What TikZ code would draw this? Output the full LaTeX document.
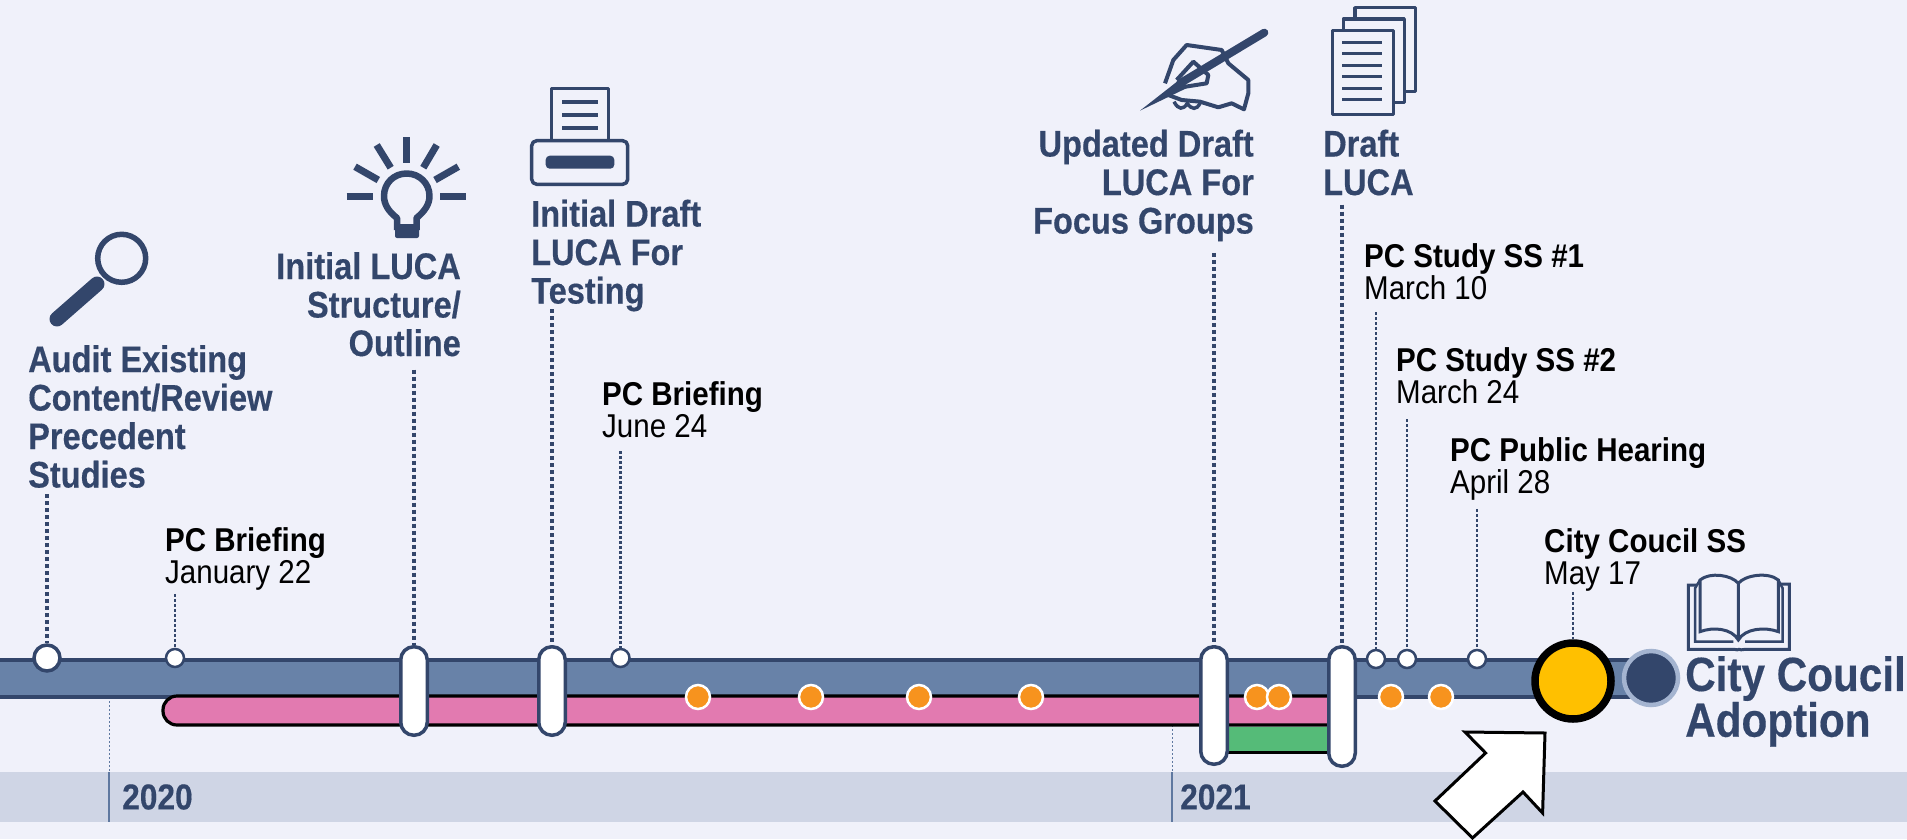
\documentclass[tikz,border=0pt]{standalone}
\usepackage{fontspec}
\setmainfont[FakeStretch=0.895]{Liberation Sans}
\newfontfamily\headfont[FakeStretch=0.88,BoldFeatures={FakeBold=0.35}]{Liberation Sans}
\usetikzlibrary{positioning}
\definecolor{navyColor}{HTML}{33466B}
\definecolor{barColor}{HTML}{6882A8}
\definecolor{bgColor}{HTML}{F0F1FA}
\definecolor{bandColor}{HTML}{CFD5E5}
\definecolor{tickColor}{HTML}{5F78A0}
\definecolor{pinkColor}{HTML}{E27AB0}
\definecolor{greenColor}{HTML}{55BB78}
\definecolor{orangeColor}{HTML}{F7931E}
\definecolor{goldColor}{HTML}{FFC000}
\definecolor{ringColor}{HTML}{A4B4D0}
\tikzset{
	head/.style={inner sep=0,text=navyColor,font=\headfont\bfseries\fontsize{37}{38.5}\selectfont},
	event/.style={inner sep=0,align=left,anchor=north west,text=black,font=\fontsize{33}{32.7}\selectfont},
	year/.style={inner sep=0,anchor=west,text=navyColor,font=\headfont\bfseries\fontsize{36}{38}\selectfont},
	bigdot/.style={circle,draw=navyColor,fill=white,line width=3.5,minimum size=26,inner sep=0},
	smalldot/.style={circle,draw=navyColor,fill=white,line width=2.5,minimum size=18,inner sep=0},
	orangedot/.style={circle,draw=white,fill=orangeColor,line width=2.5,minimum size=24,inner sep=0},
	pill/.style={rectangle,rounded corners=13,draw=navyColor,fill=white,line width=3.5,minimum width=26.5,inner sep=0},
	fatlead/.style={navyColor,line width=3.2,dash pattern=on 4 off 3},
	thinlead/.style={navyColor,line width=2.2,dash pattern=on 3 off 2},
	icon/.style={navyColor,line width=3.5,line join=round},
	rule/.style={tickColor,line width=1,dash pattern=on 2 off 2},
}
\begin{document}
\begin{tikzpicture}[x=1pt,y=-1pt]
\useasboundingbox (0,0) rectangle (1907,839);
\fill[bgColor] (0,0) rectangle (1907,839);

% year band
\fill[bandColor] (0,772) rectangle (1907,822);
\coordinate (y20) at (109,697);
\coordinate (y20b) at (109,822);
\coordinate (y21) at (1172,725);
\coordinate (y21b) at (1172,822);
\draw[rule] (y20) -- (109,772);
\draw[rule] (y21) -- (1172,772);
\draw[tickColor,line width=1.5] (109,772) -- (y20b);
\draw[tickColor,line width=1.5] (1172,772) -- (y21b);
\node[year] (t20) at (122,797) {2020};
\node[year] (t21) at (1180,797) {2021};

% main bars
\draw[fill=barColor,draw=navyColor,line width=3.5] (-5,660) rectangle (1651,697);
\draw[fill=pinkColor,draw=black,line width=3.2,rounded corners=14] (1342,696) -- (163,696) -- (163,725) -- (1342,725);
\fill[pinkColor] (1330,697.6) rectangle (1342,723.4);
\draw[fill=greenColor,draw=none] (1214,726.5) rectangle (1342,752);
\draw[black,line width=3] (1214,752) -- (1342,752);

% markers
\node[bigdot] (m1) at (47,658) {};
\node[smalldot] (m2) at (175,658) {};
\node[pill,minimum height=88.5] (p1) at (414,691) {};
\node[pill,minimum height=88.5] (p2) at (552,691) {};
\node[smalldot] (m3) at (620.5,658) {};
\node[pill,minimum height=117.5] (p3) at (1214,705.5) {};
\node[pill,minimum height=119.5] (p4) at (1342,706.5) {};
\node[smalldot] (m4) at (1376,659) {};
\node[smalldot] (m5) at (1407,659) {};
\node[smalldot] (m6) at (1477,659) {};
\foreach \x/\n in {698/a,811/b,919/c,1031/d,1257/e,1279/f,1391/g,1441/h}
	\node[orangedot] (o\n) at (\x,697) {};
\node[circle,draw=black,fill=goldColor,line width=7.5,minimum size=76,inner sep=0] (cc) at (1573,681) {};
\node[circle,draw=ringColor,fill=navyColor,line width=4.5,minimum size=54,inner sep=0] (ad) at (1651,678) {};

% heading texts
\node[head,align=left,anchor=north west] (audit) at (28,345) {Audit Existing\\Content/Review\\Precedent\\Studies};
\node[head,align=right,anchor=north east] (outline) at (461,252) {Initial LUCA\\Structure/\\Outline};
\node[head,align=left,anchor=north west] (initial) at (531,199.5) {Initial Draft\\LUCA For\\Testing};
\node[head,align=right,anchor=north east] (updated) at (1254,129.5) {Updated Draft\\LUCA For\\Focus Groups};
\node[head,align=left,anchor=north west] (draft) at (1323,129.5) {Draft\\LUCA};
\node[inner sep=0,align=left,anchor=north west,text=navyColor,font=\headfont\bfseries\fontsize{48}{44}\selectfont] (adopt) at (1685,656) {City Coucil\\Adoption};

% event texts
\node[event] (jan) at (165,527) {\textbf{PC Briefing}\\January 22};
\node[event] (jun) at (602,381) {\textbf{PC Briefing}\\June 24};
\node[event] (s1) at (1364,243) {\textbf{PC Study SS \#1}\\March 10};
\node[event] (s2) at (1396,347) {\textbf{PC Study SS \#2}\\March 24};
\node[event] (pub) at (1450,437) {\textbf{PC Public Hearing}\\April 28};
\node[event] (ss) at (1544,528) {\textbf{City Coucil SS}\\May 17};

% leaders
\draw[fatlead,shorten <=6] (m1 |- audit.south) -- (m1);
\draw[fatlead,shorten <=13] (p1 |- outline.south) -- (p1);
\draw[fatlead,shorten <=-2.5] (p2 |- initial.south) -- (p2);
\draw[fatlead,shorten <=11.5] (p3 |- updated.south) -- (p3);
\draw[fatlead,shorten <=9] (p4 |- draft.south) -- (p4);
\draw[thinlead,shorten <=3] (m2 |- jan.south) -- (m2);
\draw[thinlead,shorten <=13] (m3 |- jun.south) -- (m3);
\draw[thinlead,shorten <=12] (m4 |- s1.south) -- (m4);
\draw[thinlead,shorten <=15] (m5 |- s2.south) -- (m5);
\draw[thinlead,shorten <=8] (m6 |- pub.south) -- (m6);
\draw[thinlead] (cc |- ss.south) -- (cc);

% callout arrow
\draw[fill=white,draw=black,line width=3,line join=miter] (1465,732) -- (1545,733) -- (1542.6,813) -- (1523,792) -- (1472.5,838) -- (1435,801) -- (1485.6,753) -- cycle;

% magnifier
\draw[navyColor,line width=5.5] (121.7,258.3) circle (24);
\draw[navyColor,line width=15,line cap=round] (97,284) -- (57,319);

% bulb
\draw[navyColor,line width=6.5,line join=round] (397,230) -- (397,218) .. controls (388,211) and (384,204) .. (384,196) .. controls (384,183) and (394,173.5) .. (406.7,173.5) .. controls (419,173.5) and (429.5,183) .. (429.5,196) .. controls (429.5,204) and (425,211) .. (416.5,218) -- (416.5,230);
\fill[navyColor,rounded corners=2] (395,224) rectangle (419,238);
\foreach \a/\b/\c/\d in {346.7/196/373/196,440/196/466/196,406.7/137/406.7/163,376.7/145/390.7/167.7,436.7/145/423.3/167.7,355/166.7/378.3/180,458.3/166.7/435/180}
	\draw[navyColor,line width=7] (\a,\b) -- (\c,\d);

% printer
\draw[icon] (551.7,140) -- (551.7,88.3) -- (608.3,88.3) -- (608.3,140);
\foreach \y in {102,115,128}
	\draw[navyColor,line width=3.5] (562.3,\y) -- (597.7,\y);
\draw[icon,rounded corners=5] (531.7,140.7) rectangle (627.7,184.3);
\fill[navyColor,rounded corners=4] (545.7,155.7) rectangle (614.3,168.7);

% hand and pen
\begin{scope}[xshift=1100,x=0.3333pt,y=-0.3333pt]
\draw[icon,line width=4] (195,250) -- (220,180) -- (260,135) -- (365,150) -- (385,190) -- (445,240) -- (445,280) -- (432,328) -- (395,310) -- (355,322) -- (300,305) -- (245,300) -- (205,285);
\draw[icon,line width=4] (230,240) -- (280,185) -- (325,225) -- (320,250) -- (225,265);
\draw[navyColor,line width=3.5] (222,305) .. controls (235,330) and (250,330) .. (262,310) .. controls (275,330) and (290,330) .. (300,310);
\fill[navyColor] (120,332) -- (240,238) -- (265,262) -- cycle;
\draw[navyColor,line width=8,line cap=round] (240,250) -- (493,98);
\end{scope}

% documents
\draw[icon,fill=bgColor] (1355,7.7) rectangle (1415.7,91.7);
\draw[icon,fill=bgColor] (1343.3,19) rectangle (1404.3,102.3);
\draw[icon,fill=bgColor] (1332.3,30.7) rectangle (1393.3,114.3);
\foreach \y in {42.3,53.7,65.3,76.7,88.3,99.3}
	\draw[navyColor,line width=3] (1342.3,\y) -- (1382.3,\y);

% book
\begin{scope}[xshift=1670,yshift=-560,x=0.3333pt,y=-0.3333pt]
\draw[navyColor,line width=3] (80,75) -- (55,75) -- (55,268) -- (190,268) .. controls (200,268) and (205,272) .. (207,268) .. controls (210,272) and (215,268) .. (225,268) -- (358,268) -- (358,72) -- (330,72);
\draw[navyColor,line width=2.5] (90,60) -- (75,85) -- (75,245) -- (190,245);
\draw[navyColor,line width=2.5] (325,60) -- (338,85) -- (338,245) -- (225,245);
\draw[navyColor,line width=3] (205,240) -- (205,70) .. controls (185,45) and (120,35) .. (90,60) -- (90,215) .. controls (130,200) and (185,205) .. (205,240) .. controls (225,205) and (285,200) .. (325,215) -- (325,60) .. controls (295,35) and (225,45) .. (205,70);
\end{scope}
\end{tikzpicture}
\end{document}
